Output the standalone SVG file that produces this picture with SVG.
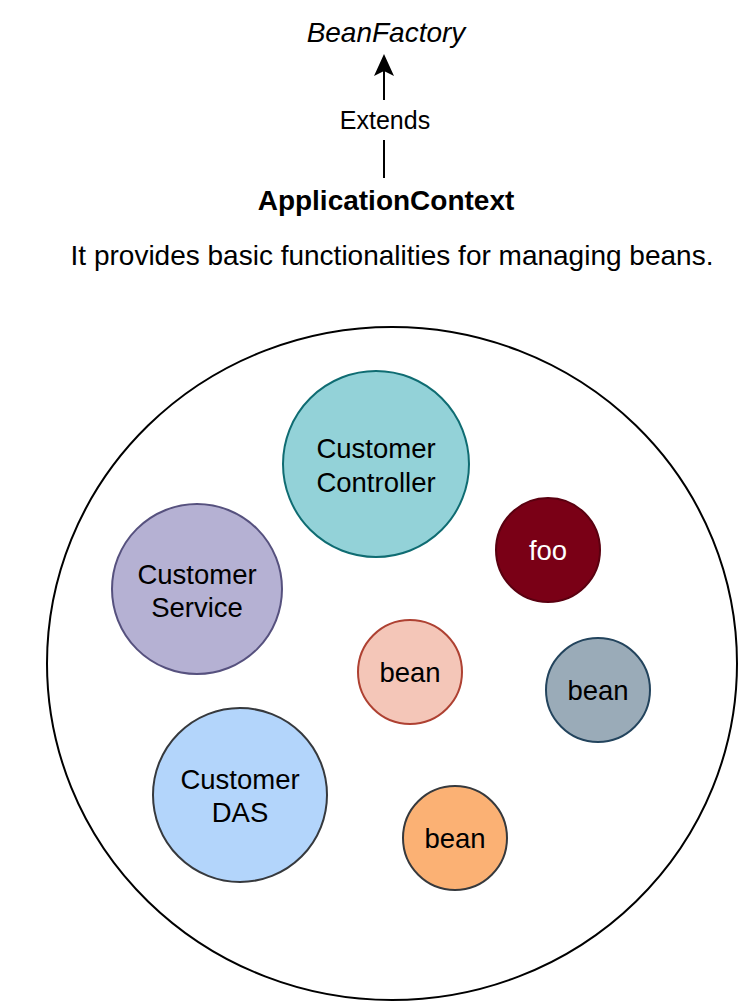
<svg xmlns="http://www.w3.org/2000/svg" width="745" height="1007" viewBox="0 0 745 1007">
<style>
text{font-family:"Liberation Sans",Arial,Helvetica,sans-serif;fill:#000;text-anchor:middle;dominant-baseline:central}
.lbl{font-size:27.5px}
.node{stroke-width:2}
</style>
<rect width="745" height="1007" fill="#fff"/>
<g id="beanfactory"><text x="386" y="32" style="font-size:28px;font-style:italic">BeanFactory</text></g>
<g id="connectors">
<line x1="384" y1="178" x2="384" y2="140" stroke="#000" stroke-width="2"/>
<line x1="384" y1="100" x2="384" y2="66" stroke="#000" stroke-width="2"/>
<path d="M384,54 L394,76 L384,71 L374,76 Z" fill="#000"/>
<text x="385" y="120" style="font-size:25px">Extends</text>
</g>
<g id="applicationcontext"><text x="386" y="200" style="font-size:28px;font-weight:bold">ApplicationContext</text></g>
<g id="description"><text x="392" y="255" style="font-size:28px">It provides basic functionalities for managing beans.</text></g>
<g id="container"><ellipse cx="392" cy="663.5" rx="345" ry="336.5" fill="#fff" stroke="#000" stroke-width="2"/></g>
<g id="customer-controller"><circle class="node" cx="376" cy="464" r="93" fill="#93d2d8" stroke="#0f6c72"/><text class="lbl" x="376" y="448">Customer</text><text class="lbl" x="376" y="482">Controller</text></g>
<g id="foo"><circle class="node" cx="548" cy="550" r="52" fill="#7a0016" stroke="#5a0010"/><text class="lbl" x="548" y="550" style="fill:#fff">foo</text></g>
<g id="customer-service"><circle class="node" cx="197" cy="589" r="85" fill="#b5b1d3" stroke="#56517e"/><text class="lbl" x="197" y="574">Customer</text><text class="lbl" x="197" y="607">Service</text></g>
<g id="bean-pink"><circle class="node" cx="410" cy="672" r="52" fill="#f4c6b8" stroke="#ae4132"/><text class="lbl" x="410" y="672">bean</text></g>
<g id="bean-gray"><circle class="node" cx="598" cy="690" r="52" fill="#9aabb8" stroke="#23445d"/><text class="lbl" x="598" y="690">bean</text></g>
<g id="customer-das"><circle class="node" cx="240" cy="795" r="87" fill="#b3d5fb" stroke="#36393d"/><text class="lbl" x="240" y="779">Customer</text><text class="lbl" x="240" y="812">DAS</text></g>
<g id="bean-orange"><circle class="node" cx="455" cy="838" r="52" fill="#fbb174" stroke="#36393d"/><text class="lbl" x="455" y="838">bean</text></g>
</svg>
